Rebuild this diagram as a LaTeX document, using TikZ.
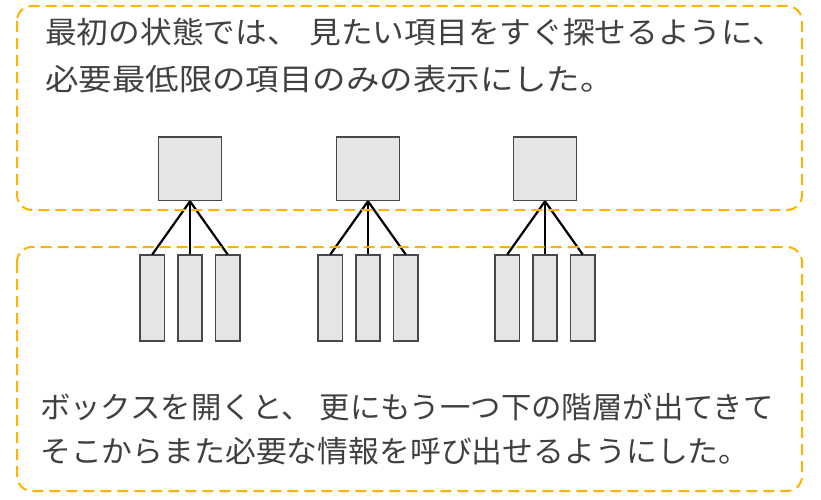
\documentclass[tikz,border=0pt]{standalone}
\usepackage{fontspec}
\newfontfamily\jp{Noto Sans CJK JP}
\definecolor{frameor}{RGB}{255,178,0}
\definecolor{boxfill}{RGB}{229,229,229}
\definecolor{boxline}{RGB}{72,72,72}
\definecolor{txt}{RGB}{64,64,64}
\tikzset{
  frame/.style={draw=frameor, line width=2pt, dash pattern=on 11pt off 6pt, rounded corners=15pt},
  parentbox/.style={draw=boxline, fill=boxfill, line width=1.6pt, minimum width=63pt, minimum height=63.5pt, inner sep=0pt},
  childbox/.style={draw=boxline, fill=boxfill, line width=1.6pt, minimum width=24.5pt, minimum height=85.5pt, inner sep=0pt},
  conn/.style={draw=black, line width=2.2pt},
  jtext/.style={anchor=base west, inner sep=0pt, text=txt, transform shape, font=\jp\fontsize{30}{36}\selectfont}
}
\begin{document}
\begin{tikzpicture}[x=1pt,y=-1pt]
\useasboundingbox (0,0) rectangle (821,500);
% parents and children
\foreach \i/\cx in {1/190,2/368,3/545}{
  \node[parentbox] (p\i) at (\cx,168.75) {};
  \node[childbox] (c\i a) at (\cx-37.7,298) {};
  \node[childbox] (c\i b) at (\cx,298) {};
  \node[childbox] (c\i c) at (\cx+37.7,298) {};
  \draw[conn] (p\i.south) -- (c\i a.north);
  \draw[conn] (p\i.south) -- (c\i b.north);
  \draw[conn] (p\i.south) -- (c\i c.north);
}
% frames
\draw[frame] (17,6) rectangle (802,210);
\draw[frame] (17,247) rectangle (802,491);
% texts
\node[jtext, xscale=1.057] (t1a) at (45,44) {最初の状態では、\hspace{10pt}見たい項目をすぐ探せるように、};
\node[jtext, xscale=1.115] (t1b) at (45,91) {必要最低限の項目のみの表示にした。};
\node[jtext, xscale=1.013] (t2a) at (40,418) {ボックスを開くと、\hspace{8pt}更にもう一つ下の階層が出てきて};
\node[jtext, xscale=1.028] (t2b) at (40,462) {そこからまた必要な情報を呼び出せるようにした。};
\end{tikzpicture}
\end{document}
